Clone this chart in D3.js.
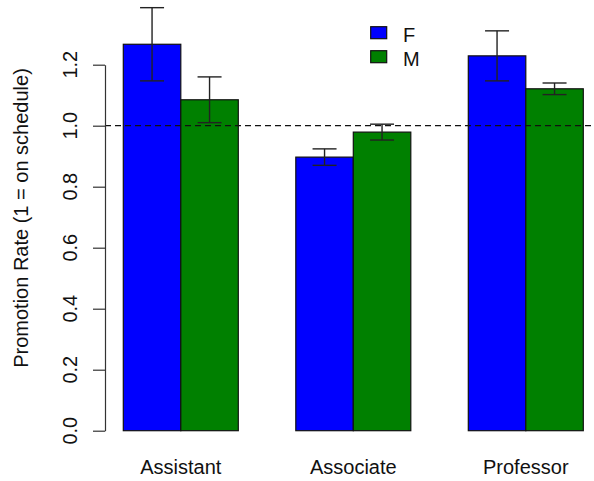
<!DOCTYPE html>
<html>
<head>
<meta charset="utf-8">
<script src="https://cdn.jsdelivr.net/npm/d3@7"></script>
<style>
  html, body { margin: 0; padding: 0; background: #fff; }
  svg { display: block; }
  text { font-family: "Liberation Sans", Arial, sans-serif; fill: #111; }
</style>
</head>
<body>
<svg id="chart" width="594" height="481"></svg>
<script>
// Promotion rate by rank and sex, with standard-error whiskers
const ranks = ["Assistant", "Associate", "Professor"];
const sexes = ["F", "M"];
const rateF = [1.267, 0.897, 1.229];
const rateM = [1.085, 0.979, 1.121];
const errF = [0.120, 0.027, 0.082];
const errM = [0.075, 0.026, 0.019];
const yTicks = [0.0, 0.2, 0.4, 0.6, 0.8, 1.0, 1.2];
const colors = { F: "#0000FF", M: "#008000" };

const rows = [];
ranks.forEach((r, i) => {
  rows.push({ rank: r, sex: "F", value: rateF[i], err: errF[i] });
  rows.push({ rank: r, sex: "M", value: rateM[i], err: errM[i] });
});

const svg = d3.select("#chart");
const plotLeft = 105, plotRight = 602;

const x = d3.scaleBand().domain(ranks).range([123.3, 583.3])
  .paddingInner(1 / 3).paddingOuter(0);
const xs = d3.scaleBand().domain(sexes).range([0, x.bandwidth()]).padding(0);
const y = d3.scaleLinear().domain([0, 1.2]).range([430.7, 64.7]);

// bars
svg.append("g").selectAll("rect").data(rows).join("rect")
  .attr("x", d => x(d.rank) + xs(d.sex))
  .attr("y", d => y(d.value))
  .attr("width", xs.bandwidth())
  .attr("height", d => y(0) - y(d.value))
  .attr("fill", d => colors[d.sex])
  .attr("stroke", "#111")
  .attr("stroke-width", 1.2);

// reference line at rate 1
svg.append("line")
  .attr("x1", plotLeft).attr("x2", plotRight)
  .attr("y1", y(1)).attr("y2", y(1))
  .attr("stroke", "#111").attr("stroke-width", 1.3)
  .attr("stroke-dasharray", "6,4");

// error bars
const eb = svg.append("g").attr("stroke", "#222").attr("stroke-width", 1.4);
rows.forEach(d => {
  const cx = x(d.rank) + xs(d.sex) + xs.bandwidth() / 2;
  const top = y(d.value + d.err), bot = y(d.value - d.err);
  eb.append("line").attr("x1", cx).attr("x2", cx).attr("y1", top).attr("y2", bot);
  eb.append("line").attr("x1", cx - 12).attr("x2", cx + 12).attr("y1", top).attr("y2", top);
  eb.append("line").attr("x1", cx - 12).attr("x2", cx + 12).attr("y1", bot).attr("y2", bot);
});

// y axis
const yAxis = svg.append("g")
  .attr("transform", `translate(${plotLeft},0)`)
  .call(d3.axisLeft(y).tickValues(yTicks).tickSize(12).tickSizeOuter(0).tickFormat(d3.format(".1f")));
yAxis.select(".domain").attr("stroke", "#333").attr("stroke-width", 1.2);
yAxis.selectAll(".tick line").attr("stroke", "#333").attr("stroke-width", 1.2);
yAxis.selectAll(".tick text").remove();
svg.append("g").selectAll("text").data(yTicks).join("text")
  .attr("transform", d => `translate(77,${y(d)}) rotate(-90)`)
  .attr("text-anchor", "middle")
  .style("font-size", "20px")
  .text(d3.format(".1f"));

// category labels
svg.append("g").selectAll("text").data(ranks).join("text")
  .attr("x", d => x(d) + x.bandwidth() / 2)
  .attr("y", 474)
  .attr("text-anchor", "middle")
  .style("font-size", "20px")
  .text(d => d);

// y title
svg.append("text")
  .attr("transform", "translate(28,218) rotate(-90)")
  .attr("text-anchor", "middle")
  .style("font-size", "20px")
  .text("Promotion Rate (1 = on schedule)");

// legend
const lg = svg.append("g");
sexes.forEach((s, i) => {
  lg.append("rect")
    .attr("x", 370.7).attr("y", 26.7 + i * 24)
    .attr("width", 16).attr("height", 12)
    .attr("fill", colors[s]).attr("stroke", "#111").attr("stroke-width", 1.2);
  lg.append("text")
    .attr("x", 403).attr("y", 41.5 + i * 24)
    .style("font-size", "20px")
    .text(s);
});
</script>
</body>
</html>
